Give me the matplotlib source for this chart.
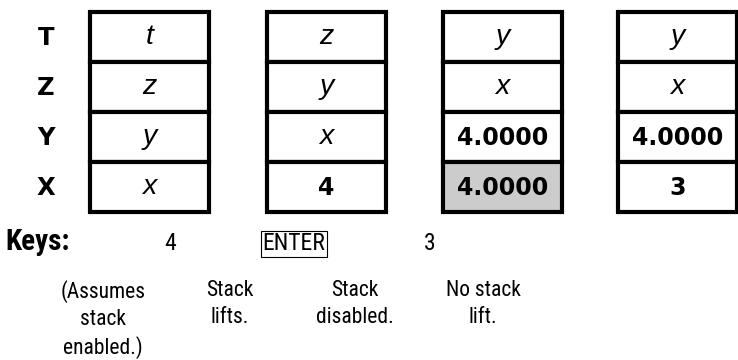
import matplotlib.pyplot as plt
from matplotlib.patches import Rectangle

# stack register names, top to bottom
registers = ["T", "Z", "Y", "X"]

# contents of the stack after each step (top to bottom)
stack_before = ["t", "z", "y", "x"]
stack_after_4 = ["z", "y", "x", "4"]
stack_after_enter = ["y", "x", "4.0000", "4.0000"]
stack_after_3 = ["y", "x", "4.0000", "3"]
stacks = [stack_before, stack_after_4, stack_after_enter, stack_after_3]

# which (column, row) cell is shaded
shaded_cells = [(2, 3)]

keys = ["4", "ENTER", "3"]
boxed_keys = ["ENTER"]
notes = ["(Assumes\nstack\nenabled.)", "Stack\nlifts.", "Stack\ndisabled.", "No stack\nlift."]

NARROW = ["Liberation Sans Narrow", "Roboto Condensed", "Open Sans Condensed", "Liberation Sans"]
SANS = ["DejaVu Sans"]
ARIAL = ["Liberation Sans", "DejaVu Sans"]


def is_number(s):
    return s.replace(".", "").isdigit()


def main():
    fig = plt.figure(figsize=(7.38, 3.6), dpi=100)
    ax = fig.add_axes([0, 0, 1, 1])
    ax.set_xlim(0, 738)
    ax.set_ylim(360, 0)
    ax.axis("off")

    box_left = [90, 267, 443, 618]
    box_w = 119
    top = 12
    row_h = 50
    lw = 3.0

    for r, name in enumerate(registers):
        ax.text(46, top + row_h * (r + 0.5) + 1, name, ha="center", va="center",
                fontsize=17.5, fontweight="bold", family=SANS)

    for c, col in enumerate(stacks):
        x0 = box_left[c]
        for r, val in enumerate(col):
            y0 = top + r * row_h
            face = "#cccccc" if (c, r) in shaded_cells else "white"
            ax.add_patch(Rectangle((x0, y0), box_w, row_h, facecolor=face,
                                   edgecolor="black", linewidth=lw))
            if is_number(val):
                ax.text(x0 + box_w / 2, y0 + row_h / 2 + 1, val, ha="center", va="center",
                        fontsize=17, fontweight="bold", family=SANS)
            else:
                ax.text(x0 + box_w / 2, y0 + row_h / 2, val, ha="center", va="center",
                        fontsize=20.5, fontstyle="italic", family=ARIAL)

    # keys row
    key_y = 242
    ax.text(5, key_y, "Keys:", ha="left", va="center", fontsize=21,
            fontweight="bold", family=NARROW)
    key_x = [170, 294, 430]
    for k, kx in zip(keys, key_x):
        if k in boxed_keys:
            ax.text(kx, key_y + 2, k, ha="center", va="center", fontsize=17, family=NARROW,
                    bbox=dict(boxstyle="square,pad=0.08", facecolor="white",
                              edgecolor="black", linewidth=0.8))
        else:
            ax.text(kx, key_y + 2, k, ha="center", va="center", fontsize=17, family=NARROW)

    note_x = [103, 230, 355, 483]
    for n, nx in zip(notes, note_x):
        ax.text(nx, 280, n, ha="center", va="top", fontsize=15.5, family=NARROW,
                linespacing=1.35)

    fig.savefig("out.png", dpi=100)
    plt.close(fig)


if __name__ == "__main__":
    main()
